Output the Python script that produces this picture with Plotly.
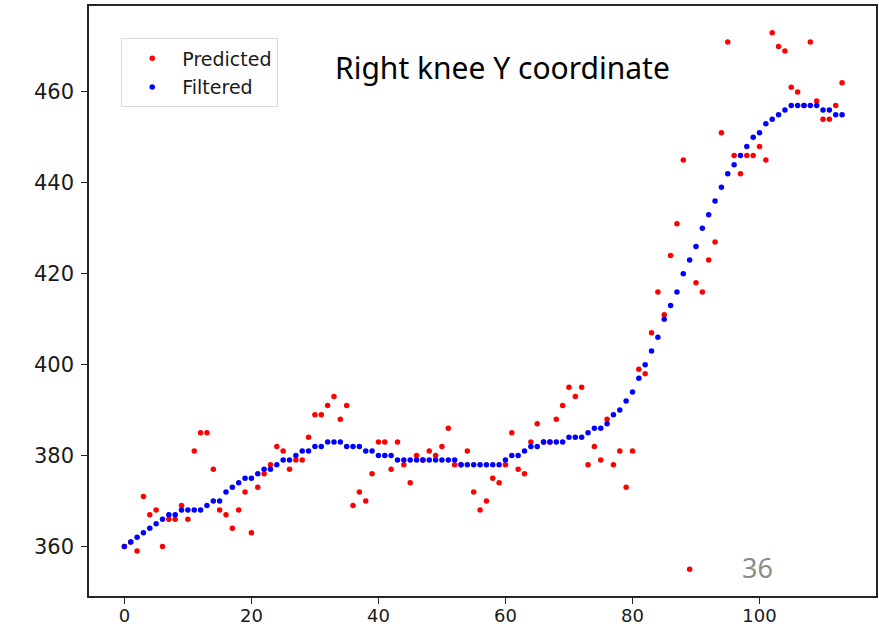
import plotly.graph_objects as go

# Frame index of each sample
frames = list(range(114))

# Raw predicted Y coordinate of the right knee (pixels)
predicted = [
    360, 361, 359, 371, 367, 368, 360, 366, 366, 369,
    366, 381, 385, 385, 377, 368, 367, 364, 368, 372,
    363, 373, 376, 378, 382, 381, 377, 379, 379, 384,
    389, 389, 391, 393, 388, 391, 369, 372, 370, 376,
    383, 383, 377, 383, 378, 374, 380, 379, 381, 380,
    382, 386, 378, 378, 381, 372, 368, 370, 375, 374,
    378, 385, 377, 376, 383, 387, 383, 383, 388, 391,
    395, 393, 395, 378, 382, 379, 388, 378, 381, 373,
    381, 399, 398, 407, 416, 411, 424, 431, 445, 355,
    418, 416, 423, 427, 451, 471, 446, 442, 446, 446,
    448, 445, 473, 470, 469, 461, 460, 457, 471, 458,
    454, 454, 457, 462,
]

# Smoothed (filtered) Y coordinate
filtered = [
    360, 361, 362, 363, 364, 365, 366, 367, 367, 368,
    368, 368, 368, 369, 370, 370, 372, 373, 374, 375,
    375, 376, 377, 377, 378, 379, 379, 380, 381, 381,
    382, 382, 383, 383, 383, 382, 382, 382, 381, 381,
    380, 380, 380, 379, 379, 379, 379, 379, 379, 379,
    379, 379, 379, 378, 378, 378, 378, 378, 378, 378,
    379, 380, 380, 381, 382, 382, 383, 383, 383, 383,
    384, 384, 384, 385, 386, 386, 387, 389, 390, 392,
    394, 397, 400, 403, 406, 410, 413, 416, 420, 423,
    426, 430, 433, 436, 439, 442, 444, 446, 448, 450,
    451, 453, 454, 455, 456, 457, 457, 457, 457, 457,
    456, 456, 455, 455,
]

x_ticks = [0, 20, 40, 60, 80, 100]
y_ticks = [360, 380, 400, 420, 440, 460]

title_text = "Right knee Y coordinate"
page_number = "36"

fig = go.Figure()
fig.add_trace(go.Scatter(
    x=frames, y=predicted, mode="markers", name="Predicted",
    legendgroup="p",
    marker=dict(color="#ff0000", size=5.5, line=dict(width=0)),
))
fig.add_trace(go.Scatter(
    x=frames, y=filtered, mode="markers", name="Filtered",
    legendgroup="f",
    marker=dict(color="#0000ff", size=5.5, line=dict(width=0)),
))

axis_common = dict(
    showgrid=False, zeroline=False,
    showline=True, linecolor="#262626", linewidth=1.5, mirror=True,
    ticks="outside", ticklen=6, tickwidth=1.2, tickcolor="#262626",
)

fig.update_layout(
    width=879, height=633,
    margin=dict(l=89, r=1, t=6, b=37),
    paper_bgcolor="white", plot_bgcolor="white",
    xaxis=dict(range=[-5.57, 118.34], tickvals=x_ticks,
               tickfont=dict(family="DejaVu Sans", size=18, color="#1a1a1a"),
               ticklabelstandoff=-3,
               **axis_common),
    yaxis=dict(range=[349.1, 478.9], tickvals=y_ticks,
               tickfont=dict(family="DejaVu Sans", size=21, color="#1a1a1a"),
               ticklabelstandoff=3,
               **axis_common),
    legend=dict(
        x=0.041, y=0.945, xanchor="left", yanchor="top",
        bgcolor="white", bordercolor="#d9d9d9", borderwidth=1,
        font=dict(family="DejaVu Sans", size=19, color="#1a1a1a"),
        itemsizing="trace", itemwidth=50,
        traceorder="grouped", tracegroupgap=1,
    ),
    showlegend=True,
    annotations=[
        dict(text=title_text, xref="paper", yref="paper", x=0.526, y=0.896,
             xanchor="center", yanchor="middle", showarrow=False,
             font=dict(family="Noto Sans", size=30, color="black")),
        dict(text=page_number, xref="paper", yref="paper", x=0.849, y=0.049,
             xanchor="center", yanchor="middle", showarrow=False,
             font=dict(family="Noto Sans", size=27, color="#8c8c8c")),
    ],
)

fig.write_html("out.html")
